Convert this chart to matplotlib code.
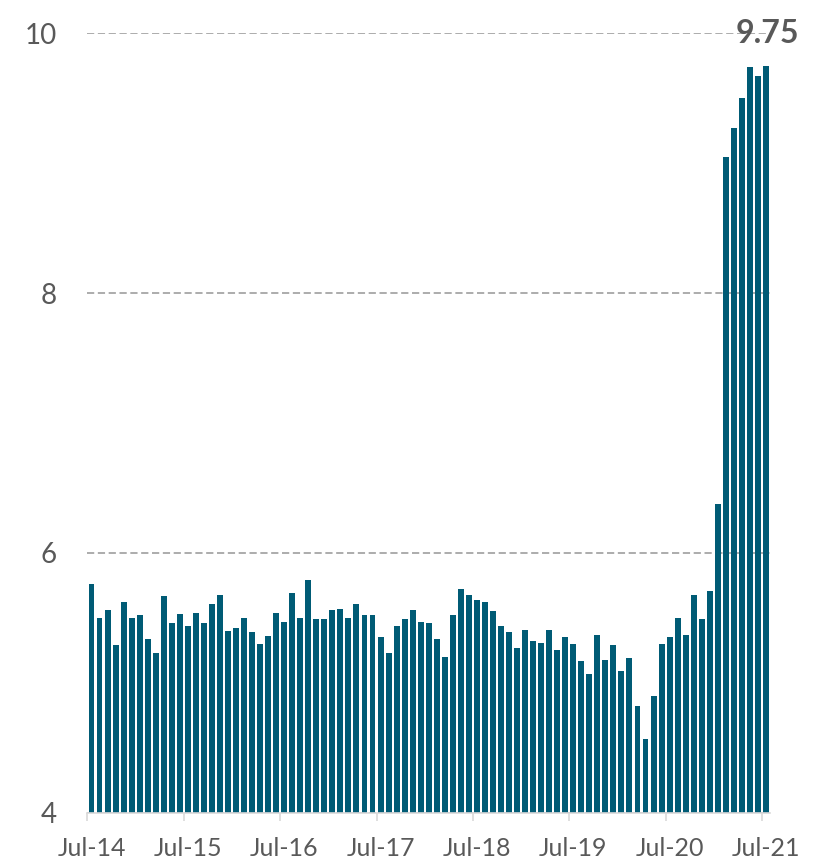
import numpy as np, matplotlib
matplotlib.use('Agg')
import matplotlib.pyplot as plt

BAR = '#005B75'; TXT = '#595959'; GRID = '#A6A6A6'; AX = '#D9D9D9'
plt.rcParams['font.family'] = ['Lato', 'DejaVu Sans']

# monthly values, Jul-14 .. Jul-21
values = [5.76, 5.50, 5.56, 5.29, 5.62, 5.50, 5.52, 5.34, 5.23, 5.67, 5.46, 5.53,
          5.44, 5.54, 5.46, 5.61, 5.68, 5.40, 5.42, 5.50, 5.39, 5.30, 5.36, 5.54,
          5.47, 5.69, 5.50, 5.79, 5.49, 5.49, 5.56, 5.57, 5.50, 5.61, 5.52, 5.52,
          5.35, 5.23, 5.44, 5.49, 5.56, 5.47, 5.46, 5.34, 5.20, 5.52, 5.72, 5.68,
          5.64, 5.62, 5.55, 5.44, 5.39, 5.27, 5.41, 5.32, 5.31, 5.41, 5.25, 5.35,
          5.30, 5.17, 5.07, 5.37, 5.18, 5.29, 5.09, 5.19, 4.82, 4.57, 4.90, 5.30,
          5.35, 5.50, 5.37, 5.68, 5.49, 5.71, 6.38, 9.05, 9.27, 9.50, 9.74, 9.67,
          9.75]
year_labels = ['Jul-14', 'Jul-15', 'Jul-16', 'Jul-17', 'Jul-18', 'Jul-19', 'Jul-20', 'Jul-21']
y_ticks = [4, 6, 8, 10]

fig = plt.figure(figsize=(8.16, 8.6), dpi=100)
ax = fig.add_axes([0.1072, 0.0547, 0.9436 - 0.1072, 0.9616 - 0.0547])
x = np.arange(len(values))
ax.bar(x, np.array(values) - 4, bottom=4, width=0.74, color=BAR, zorder=2)

ax.set_xlim(-0.5, len(values) - 0.5)
ax.set_ylim(4, 10)
ax.set_yticks(y_ticks)
ax.set_yticklabels([str(t) for t in y_ticks])
ax.yaxis.grid(True, color=GRID, linestyle=(0, (4, 2)), linewidth=1.3, zorder=1)
ax.set_axisbelow(True)

lab_pos = np.arange(0, len(values), 12)
ax.set_xticks(lab_pos)
ax.set_xticklabels(year_labels)
ax.set_xticks(lab_pos - 0.5, minor=True)
ax.tick_params(axis='x', which='major', length=0, pad=17, labelsize=18, labelcolor=TXT)
ax.tick_params(axis='x', which='minor', length=6, width=1.2, color=AX)
ax.tick_params(axis='y', length=0, pad=22, labelsize=20, labelcolor=TXT)

for s in ['left', 'right', 'top']:
    ax.spines[s].set_visible(False)
ax.spines['bottom'].set_color(AX)
ax.spines['bottom'].set_linewidth(1.2)

ax.annotate(f'{values[-1]:.2f}', xy=(x[-1], values[-1]), xytext=(1, 23), textcoords='offset points',
            ha='center', va='center', fontsize=23, fontweight='bold', color=TXT, annotation_clip=False)

fig.savefig('out.png', dpi=100)
